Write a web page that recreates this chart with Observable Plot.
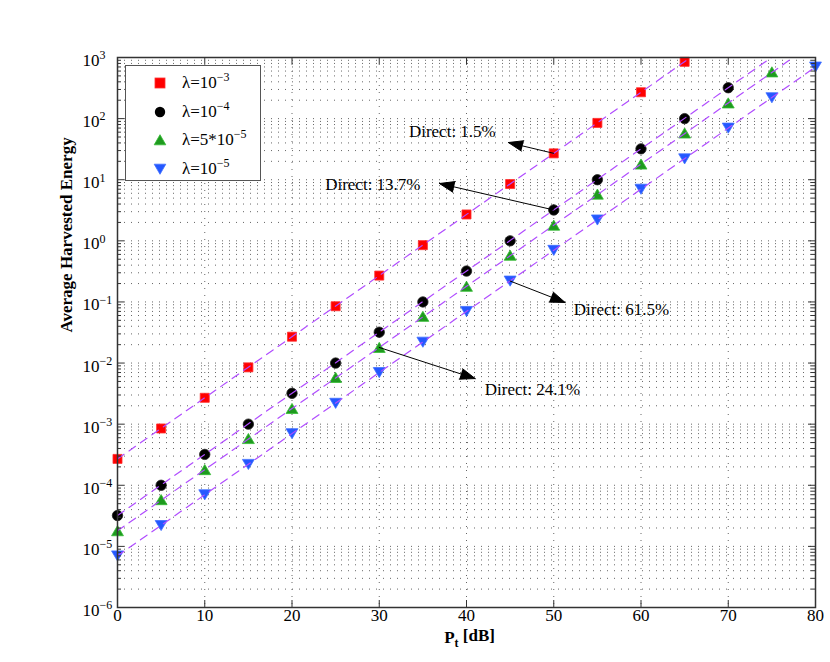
<!DOCTYPE html>
<html>
<head>
<meta charset="utf-8">
<script src="https://cdn.jsdelivr.net/npm/d3@7"></script>
<script src="https://cdn.jsdelivr.net/npm/@observablehq/plot@0.6"></script>
<style>
  html, body { margin: 0; padding: 0; background: white; }
  #wrap { position: relative; width: 830px; height: 662px; font-family: "Liberation Serif", "Times New Roman", serif; }
  #legend { position: absolute; left: 125px; top: 65px; width: 136px; height: 116px; background: white; border: 1.5px solid #555; box-sizing: border-box; }
  .row { position: absolute; left: 0; height: 24px; width: 136px; }
  .row svg { position: absolute; left: 22px; top: 0; }
  .row span { position: absolute; left: 56px; top: 1px; font-size: 17px; white-space: nowrap; line-height: 22px; }
  .row sup { font-size: 12px; vertical-align: 7px; line-height: 0; }
</style>
</head>
<body>
<div id="wrap"><div id="chart"></div><div id="legend"></div></div>
<script>
// ---- data ----
const pt = [0, 5, 10, 15, 20, 25, 30, 35, 40, 45, 50, 55, 60, 65, 70, 75, 80];
const red   = [2.7e-4, 8.5e-4, 2.7e-3, 8.5e-3, 2.7e-2, 8.5e-2, 0.27, 0.85, 2.7, 8.5, 27, 85, 270, 850];
const black = [3.2e-5, 1.0e-4, 3.2e-4, 1.0e-3, 3.2e-3, 1.0e-2, 3.2e-2, 0.1, 0.32, 1.0, 3.2, 10, 32, 100, 320];
const green = [1.8e-5, 5.8e-5, 1.8e-4, 5.8e-4, 1.8e-3, 5.8e-3, 1.8e-2, 5.8e-2, 0.18, 0.58, 1.8, 5.8, 18, 58, 180, 580];
const blue  = [7e-6, 2.2e-5, 7e-5, 2.2e-4, 7e-4, 2.2e-3, 7e-3, 2.2e-2, 7e-2, 0.22, 0.7, 2.2, 7, 22, 70, 220, 700];

// dashed fit lines (end values at x = 0 and x = 80)
const fitX = [0, 80];
const fitRed = [2.7e-4, 2.7e4];
const fitBlack = [3.2e-5, 3.2e3];
const fitGreen = [1.8e-5, 1.8e3];
const fitBlue = [7e-6, 700];

const seriesNames = ["λ=10^−3", "λ=10^−4", "λ=5*10^−5", "λ=10^−5"];

// annotations
const annLabels = ["Direct: 1.5%", "Direct: 13.7%", "Direct: 61.5%", "Direct: 24.1%"];
const annTextX = [33.4, 23.8, 52.3, 42.1];
const annTextY = [61, 8.3, 0.075, 0.0037];
const arrX1 = [50, 50, 45, 30];
const arrY1 = [27, 3.2, 0.22, 0.018];
const arrX2 = [44.8, 36.9, 51.3, 41.0];
const arrY2 = [40.6, 8.67, 0.098, 0.00557];

// axes
const xTicks = [0, 10, 20, 30, 40, 50, 60, 70, 80];
const yExps = [-6, -5, -4, -3, -2, -1, 0, 1, 2, 3];

// ---- derived tables ----
const mk = (ys) => ys.map((y, i) => ({x: pt[i], y}));
const dRed = mk(red), dBlack = mk(black), dGreen = mk(green), dBlue = mk(blue);
const fits = [fitRed, fitBlack, fitGreen, fitBlue].flatMap((f, s) => fitX.map((x, i) => ({s, x, y: f[i]})));
const ann = annLabels.map((t, i) => ({t, x: annTextX[i], y: annTextY[i], x1: arrX1[i], y1: arrY1[i], x2: arrX2[i], y2: arrY2[i]}));
const majorY = yExps.map(e => Math.pow(10, e));
const minorY = yExps.slice(0, -1).flatMap(e => [2,3,4,5,6,7,8,9].map(m => m * Math.pow(10, e)));
const allY = majorY.concat(minorY);

const triUp = {draw(c, size) { const s = Math.sqrt(size); c.moveTo(0, -0.52*s); c.lineTo(0.6*s, 0.5*s); c.lineTo(-0.6*s, 0.5*s); c.closePath(); }};
const triDown = {draw(c, size) { const s = Math.sqrt(size); c.moveTo(0, 0.52*s); c.lineTo(0.6*s, -0.5*s); c.lineTo(-0.6*s, -0.5*s); c.closePath(); }};

const FW = 698, FH = 550;
const font = "Liberation Serif";

function supRender(index, scales, values, dims, ctx, next) {
  const g = next(index, scales, values, dims, ctx);
  d3.select(g).selectAll("text").each(function() {
    const t = d3.select(this);
    const s = t.text();
    t.text("10");
    t.append("tspan").attr("dy", "-0.55em").attr("font-size", "12px").text(s.replace("-", "−"));
  });
  return g;
}
function subRender(index, scales, values, dims, ctx, next) {
  const g = next(index, scales, values, dims, ctx);
  d3.select(g).selectAll("text").each(function() {
    const t = d3.select(this);
    t.text("P");
    t.append("tspan").attr("dy", "0.4em").attr("font-size", "12px").text("t");
    t.append("tspan").attr("dy", "-0.4em").text(" [dB]");
  });
  return g;
}

const chart = Plot.plot({
  width: 830, height: 662,
  marginLeft: 117, marginRight: 15, marginTop: 57, marginBottom: 55,
  x: {domain: [0, 80], axis: null},
  y: {type: "log", domain: [1e-6, 1e3], axis: null},
  style: {fontFamily: font, background: "white", color: "black"},
  marks: [
    Plot.gridY(allY, {stroke: "#666", strokeOpacity: 1, strokeDasharray: "1,6", strokeWidth: 1}),
    Plot.gridX(xTicks.slice(1, -1), {stroke: "#666", strokeOpacity: 1, strokeDasharray: "1,6", strokeWidth: 1}),
    Plot.dot(dRed, {x: "x", y: "y", symbol: "square", r: 5.1, fill: "#ff0000", stroke: "#ff3030", strokeWidth: 0.8}),
    Plot.dot(dBlack, {x: "x", y: "y", symbol: "circle", r: 5.2, fill: "black", stroke: "#222", strokeWidth: 0.8}),
    Plot.dot(dGreen, {x: "x", y: "y", symbol: triUp, r: 5.6, fill: "#1e9a1e", stroke: "#33bb33", strokeWidth: 0.8}),
    Plot.dot(dBlue, {x: "x", y: "y", symbol: triDown, r: 5.6, fill: "#2458ff", stroke: "#4070ff", strokeWidth: 0.8}),
    Plot.line(fits, {x: "x", y: "y", z: "s", stroke: "#b04cff", strokeWidth: 1.2, strokeDasharray: "8,6", clip: true}),
    Plot.arrow(ann, {x1: "x1", y1: "y1", x2: "x2", y2: "y2", stroke: "black", fill: "black", strokeWidth: 1, headLength: 24, headAngle: 40}),
    Plot.text(ann, {x: "x", y: "y", text: "t", textAnchor: "start", fontSize: 17, fill: "black"}),
    Plot.frame({stroke: "#333", strokeWidth: 1.5}),
    Plot.tickY(majorY, {insetRight: FW - 7, stroke: "#333"}),
    Plot.tickY(majorY, {insetLeft: FW - 7, stroke: "#333"}),
    Plot.tickY(minorY, {insetRight: FW - 4, stroke: "#333"}),
    Plot.tickY(minorY, {insetLeft: FW - 4, stroke: "#333"}),
    Plot.tickX(xTicks, {insetTop: FH - 7, stroke: "#333"}),
    Plot.tickX(xTicks, {insetBottom: FH - 7, stroke: "#333"}),
    Plot.text(yExps, {y: e => Math.pow(10, e), text: e => String(e), frameAnchor: "left", dx: -35, dy: 3, textAnchor: "start", fontSize: 17, fill: "black", render: supRender}),
    Plot.text(xTicks, {x: d => d, text: d => String(d), frameAnchor: "bottom", dy: 13, fontSize: 17, fill: "black"}),
    Plot.text(["Average Harvested Energy"], {text: d => d, frameAnchor: "left", dx: -51, rotate: -90, fontSize: 17, fontWeight: "bold", fill: "black"}),
    Plot.text(["P_t [dB]"], {text: d => d, frameAnchor: "bottom", dx: 3, dy: 35, fontSize: 17, fontWeight: "bold", fill: "black", render: subRender})
  ]
});
document.getElementById("chart").appendChild(chart);

// legend
const legendMarkers = [
  '<rect x="7" y="7" width="10" height="10" fill="#ff0000" stroke="#ff3030" stroke-width="0.8"/>',
  '<circle cx="12" cy="12" r="5.2" fill="black"/>',
  '<path d="M12 6.7 L17.8 16.8 L6.2 16.8 Z" fill="#1e9a1e" stroke="#33bb33" stroke-width="0.8"/>',
  '<path d="M12 17.3 L17.8 7.2 L6.2 7.2 Z" fill="#2458ff" stroke="#4070ff" stroke-width="0.8"/>'
];
const leg = document.getElementById("legend");
seriesNames.forEach((name, i) => {
  const [base, exp] = name.split("^");
  const row = document.createElement("div");
  row.className = "row";
  row.style.top = (5 + i * 28.5) + "px";
  row.innerHTML = '<svg width="24" height="24">' + legendMarkers[i] + '</svg><span>' + base + '<sup>' + exp + '</sup></span>';
  leg.appendChild(row);
});
</script>
</body>
</html>
